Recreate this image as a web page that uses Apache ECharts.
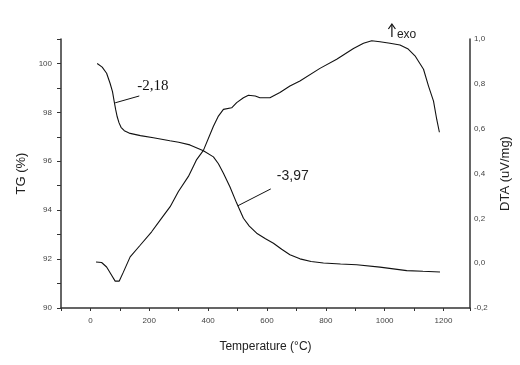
<!DOCTYPE html>
<html>
<head>
<meta charset="utf-8">
<script src="https://cdn.jsdelivr.net/npm/echarts@6/dist/echarts.min.js"></script>
<style>html,body{margin:0;padding:0;background:#fff}#c{width:520px;height:365px}</style>
</head>
<body>
<div id="c"></div>
<script>
// TG curve (temperature °C, mass %)
const tgTemperature = [23,40,55,67,75,81,86,91,97,104,115,135,170,214,270,300,338,384,418,435,452,474,497,520,540,565,595,622,650,678,712,750,792,850,905,984,1075,1130,1188];
const tgValues = [100.0,99.85,99.6,99.18,98.85,98.43,98.1,97.82,97.58,97.39,97.25,97.14,97.05,96.96,96.84,96.78,96.67,96.43,96.18,95.9,95.51,94.96,94.29,93.67,93.35,93.06,92.83,92.65,92.4,92.18,92.01,91.9,91.84,91.8,91.77,91.67,91.53,91.5,91.47];
// DTA curve (temperature °C, uV/mg)
const dtaTemperature = [19,38,55,72,84,98,112,135,169,208,237,271,299,333,350,361,384,418,435,452,480,497,520,537,560,576,610,644,678,712,780,837,894,928,956,984,1018,1052,1080,1103,1132,1149,1166,1177,1186];
const dtaValues = [0.005,0.003,-0.017,-0.054,-0.08,-0.08,-0.04,0.028,0.08,0.14,0.192,0.252,0.32,0.387,0.432,0.462,0.503,0.611,0.656,0.686,0.693,0.716,0.738,0.749,0.746,0.738,0.738,0.761,0.79,0.813,0.869,0.91,0.958,0.981,0.992,0.988,0.981,0.973,0.955,0.925,0.865,0.79,0.723,0.641,0.584];
// Mass-loss annotations: [label, curve point T, curve point TG, label end T, label end TG]
const annotations = [
  ['-2,18', 84, 98.39, 166, 98.67],
  ['-3,97', 501, 94.18, 613, 94.87]
];
const xTickLabels = [0,200,400,600,800,1000,1200];
const tgTickLabels = [90,92,94,96,98,100];

const chart = echarts.init(document.getElementById('c'), null, {renderer:'canvas'});
const tick = {fontFamily:'Liberation Sans', fontSize:8, color:'#444'};
const axisLine = {show:true, onZero:false, lineStyle:{color:'#333', width:1.5}};
chart.setOption({
  animation:false,
  backgroundColor:'#fff',
  grid:{left:61, right:50, top:39, bottom:57},
  xAxis:{
    type:'value', min:-100, max:1290, interval:100,
    name:'Temperature (°C)', nameLocation:'middle', nameGap:33,
    nameTextStyle:{fontFamily:'Liberation Sans', fontSize:12, color:'#222'},
    axisLine:axisLine, axisTick:{show:true, length:3, lineStyle:{color:'#333'}},
    axisLabel:Object.assign({margin:9, formatter:v=>xTickLabels.includes(v)?String(v):''}, tick),
    splitLine:{show:false}
  },
  yAxis:[
    {
      type:'value', min:90, max:101, interval:1, position:'left',
      name:'TG (%)', nameLocation:'middle', nameGap:33,
      nameTextStyle:{fontFamily:'Liberation Sans', fontSize:13, color:'#222'},
      axisLine:axisLine, axisTick:{show:true, length:4, lineStyle:{color:'#333'}},
      axisLabel:Object.assign({margin:9, formatter:v=>tgTickLabels.includes(v)?String(v):''}, tick),
      splitLine:{show:false}
    },
    {
      type:'value', min:-0.2, max:1.0, interval:0.2, position:'right',
      name:'DTA (uV/mg)', nameLocation:'middle', nameGap:26,
      nameTextStyle:{fontFamily:'Liberation Sans', fontSize:13, color:'#222'},
      axisLine:axisLine, axisTick:{show:false},
      axisLabel:Object.assign({margin:4, formatter:v=>(Math.abs(v)<1e-9?0:v).toFixed(1).replace('.',',')}, tick),
      splitLine:{show:false}
    }
  ],
  series:[
    {
      type:'line', yAxisIndex:0, showSymbol:false, silent:true,
      lineStyle:{color:'#111', width:1.1},
      data:tgTemperature.map((t,i)=>[t,tgValues[i]]),
      markLine:{
        silent:true, symbol:'none', animation:false,
        lineStyle:{color:'#111', width:1, type:'solid'},
        label:{show:false},
        data:annotations.map(a=>[{coord:[a[1],a[2]]},{coord:[a[3],a[4]]}])
      }
    },
    {
      type:'line', yAxisIndex:1, showSymbol:false, silent:true,
      lineStyle:{color:'#111', width:1.1},
      data:dtaTemperature.map((t,i)=>[t,dtaValues[i]])
    }
  ]
});
// annotation labels placed next to their leader-line ends
const p1 = chart.convertToPixel({xAxisIndex:0, yAxisIndex:0}, [annotations[0][3], annotations[0][4]]);
const p2 = chart.convertToPixel({xAxisIndex:0, yAxisIndex:0}, [annotations[1][3], annotations[1][4]]);
const peak = chart.convertToPixel({xAxisIndex:0, yAxisIndex:1}, [960, 1.0]);
chart.setOption({
  graphic:[
    {type:'text', x:p1[0]-2, y:p1[1]-10, style:{text:annotations[0][0], font:'15px "Liberation Serif"', fill:'#111', verticalAlign:'middle'}},
    {type:'text', x:p2[0]+6, y:p2[1]-13, style:{text:annotations[1][0], font:'14px "Liberation Sans"', fill:'#222', verticalAlign:'middle'}},
    {type:'line', shape:{x1:peak[0]+19, y1:peak[1]-2, x2:peak[0]+19, y2:peak[1]-14}, style:{stroke:'#111', lineWidth:1.2}},
    {type:'polyline', shape:{points:[[peak[0]+15.5,peak[1]-10],[peak[0]+19,peak[1]-15],[peak[0]+22.5,peak[1]-10]]}, style:{stroke:'#111', lineWidth:1.2, fill:null}},
    {type:'text', x:peak[0]+24, y:peak[1]-4, style:{text:'exo', font:'12px "Liberation Sans"', fill:'#222', verticalAlign:'middle'}}
  ]
});
</script>
</body>
</html>
